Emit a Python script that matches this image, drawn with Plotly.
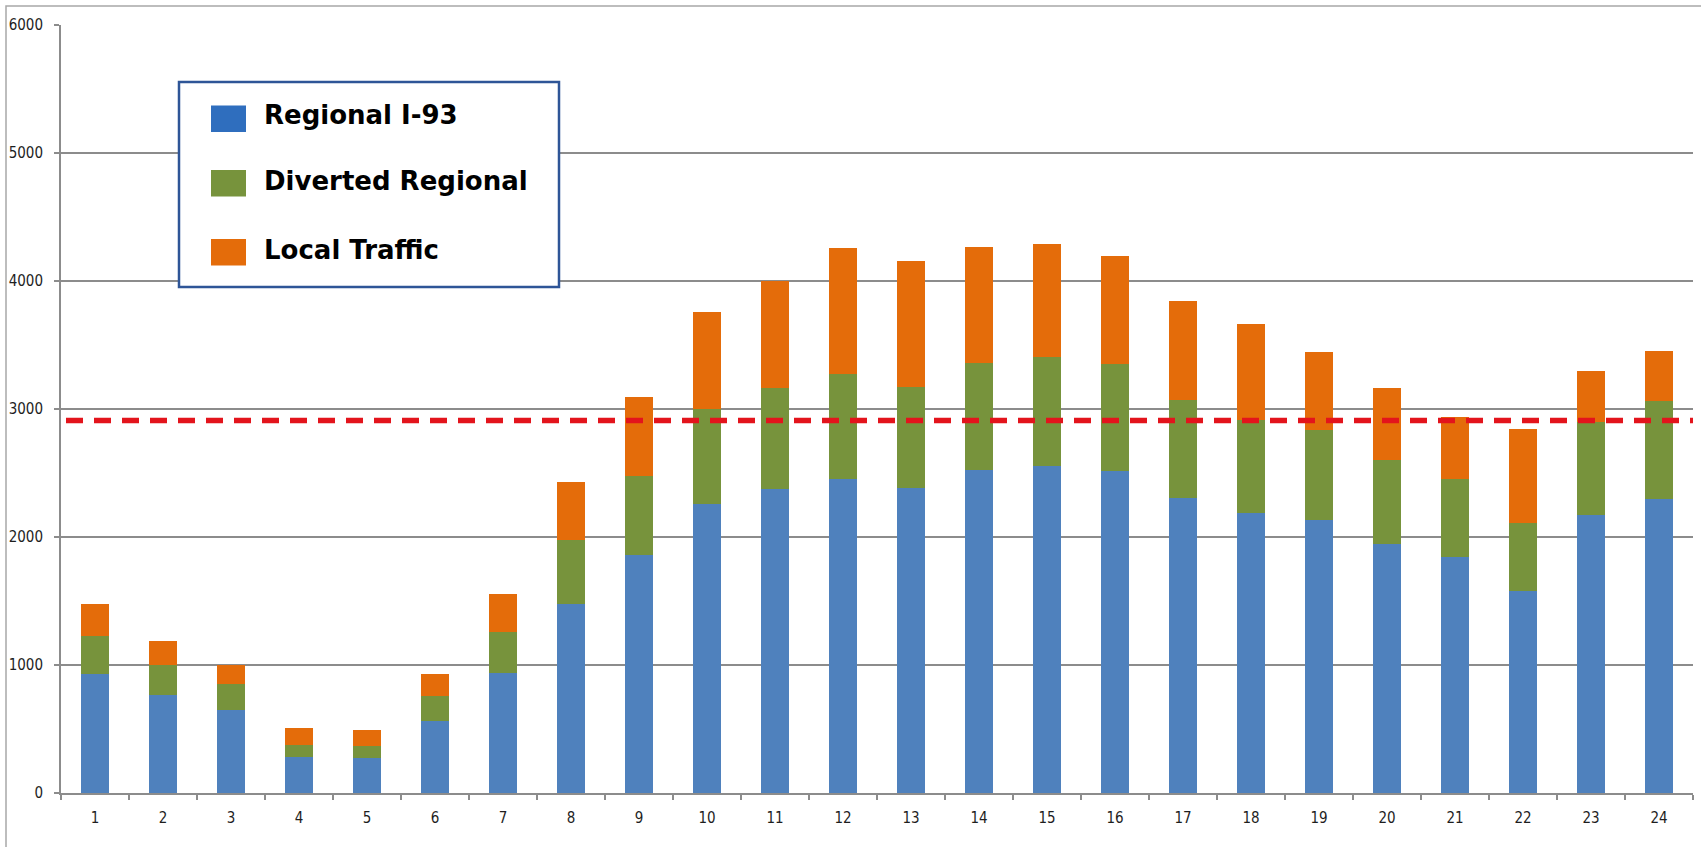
import plotly.graph_objects as go

# Hourly traffic volumes (hour of day 1-24), stacked by traffic type
hours = [str(h) for h in range(1, 25)]
regional_i93 = [927, 762, 648, 282, 277, 561, 935, 1478, 1862, 2254, 2373, 2456,
                2381, 2527, 2553, 2518, 2303, 2191, 2131, 1949, 1843, 1578, 2173, 2298]
diverted_regional = [303, 238, 206, 91, 91, 196, 323, 502, 618, 749, 791, 820,
                     793, 832, 850, 833, 770, 726, 708, 653, 613, 533, 723, 764]
local_traffic = [250, 185, 146, 131, 128, 170, 296, 450, 614, 754, 837, 978,
                 983, 908, 890, 848, 772, 749, 603, 564, 482, 736, 398, 393]
series_names = ["Regional I-93", "Diverted Regional", "Local Traffic"]
capacity = 2910
y_ticks = [0, 1000, 2000, 3000, 4000, 5000, 6000]

W, H = 1701, 847
L, R, T, B = 61, 1693, 25, 793          # plot area in pixels
bar_colors = ["#4F81BD", "#77933C", "#E46C0A"]
swatch_colors = ["#2F6EBE", "#77933C", "#E46C0A"]
grid = "#8C8C8C"
tick_font = dict(family="Liberation Sans Narrow, DejaVu Sans Condensed, sans-serif",
                 size=15, color="#1E1E1E")


def px_x(px):
    return (px - L) / (R - L)


def px_y(py):
    return (B - py) / (B - T)


fig = go.Figure()
for name, vals, col in zip(series_names,
                           [regional_i93, diverted_regional, local_traffic],
                           bar_colors):
    fig.add_trace(go.Bar(x=hours, y=vals, name=name, marker_color=col,
                         marker_line_width=0, showlegend=False))

shapes = []
# capacity threshold
shapes.append(dict(type="line", xref="paper", yref="y",
                   x0=px_x(66), x1=1.0, y0=capacity, y1=capacity,
                   line=dict(color="#E3141C", width=5.5, dash="17px,11px"),
                   layer="above"))
# outer chart frame
shapes.append(dict(type="rect", xref="paper", yref="paper",
                   x0=px_x(6), x1=px_x(W + 10), y0=px_y(6), y1=px_y(H + 10),
                   line=dict(color="#A8A8A8", width=1.5), fillcolor="rgba(0,0,0,0)",
                   layer="below"))
# legend box
shapes.append(dict(type="rect", xref="paper", yref="paper",
                   x0=px_x(179), x1=px_x(559), y0=px_y(82), y1=px_y(287),
                   line=dict(color="#2E5597", width=2.5), fillcolor="white",
                   layer="above"))

annotations = []
row_tops = [105.5, 170, 239]
text_centers = [115, 181, 250]
for name, col, top, tc in zip(series_names, swatch_colors, row_tops, text_centers):
    shapes.append(dict(type="rect", xref="paper", yref="paper",
                       x0=px_x(211), x1=px_x(246), y0=px_y(top), y1=px_y(top + 26.5),
                       line=dict(width=0), fillcolor=col, layer="above"))
    annotations.append(dict(xref="paper", yref="paper", x=px_x(262), y=px_y(tc),
                            xanchor="left", yanchor="middle", showarrow=False,
                            text="<b>" + name + "</b>",
                            font=dict(family="DejaVu Sans, sans-serif", size=26,
                                      color="black")))

fig.update_layout(
    width=W, height=H,
    margin=dict(l=L, r=W - R, t=T, b=H - B, pad=0),
    paper_bgcolor="white", plot_bgcolor="white",
    barmode="stack", bargap=0.59,
    shapes=shapes, annotations=annotations,
    showlegend=False,
)
fig.update_xaxes(type="category", range=[-0.5, 23.5], tickson="boundaries",
                 ticks="outside", ticklen=5, tickwidth=1.5, tickcolor=grid,
                 showline=True, linecolor=grid, linewidth=2, showgrid=False,
                 tickfont=tick_font, ticklabelstandoff=10)
fig.update_yaxes(range=[0, 6000], tickvals=y_ticks, ticks="outside", ticklen=5,
                 tickwidth=1.5, tickcolor=grid, showline=True, linecolor=grid,
                 linewidth=2, showgrid=True, gridcolor=grid, gridwidth=1.5,
                 zeroline=False, tickfont=tick_font, ticklabelstandoff=8)

fig.write_html("out.html")
